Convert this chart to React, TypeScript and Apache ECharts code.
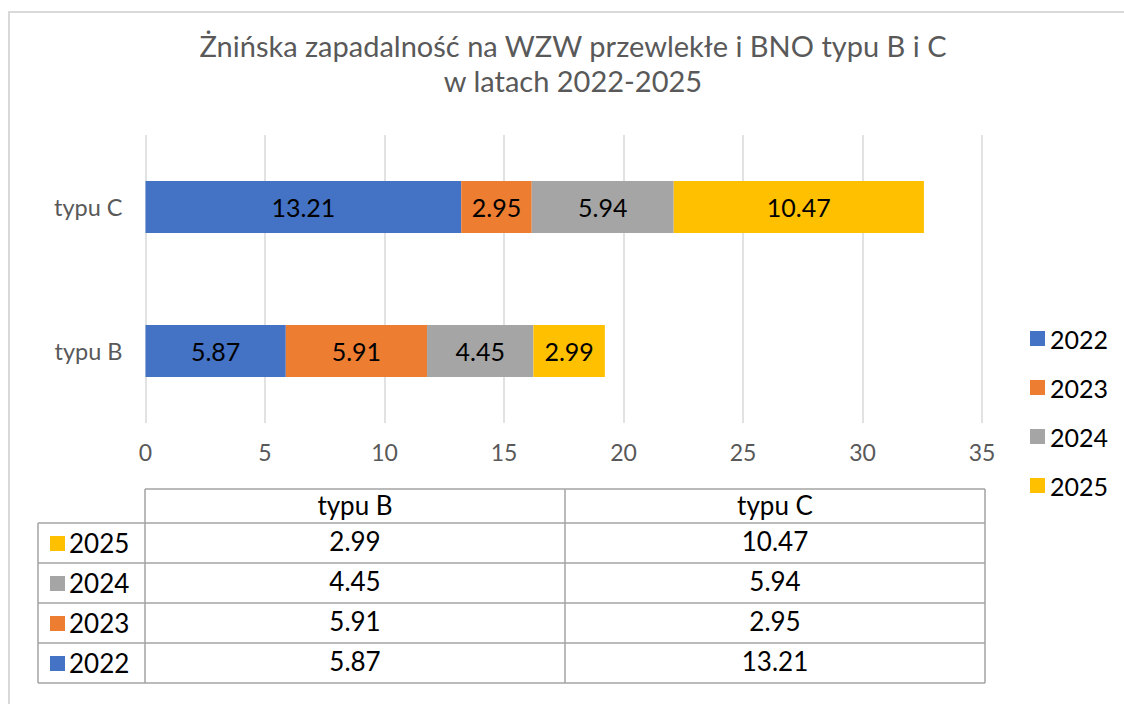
import React, { useEffect, useRef } from "react";
import * as echarts from "echarts";

const categories = ["typu B", "typu C"];
const years = ["2022", "2023", "2024", "2025"];
const values2022 = [5.87, 13.21];
const values2023 = [5.91, 2.95];
const values2024 = [4.45, 5.94];
const values2025 = [2.99, 10.47];
const xTicks = { min: 0, max: 35, interval: 5 };
const titleText = "Żnińska zapadalność na WZW przewlekłe i BNO typu B i C\nw latach 2022-2025";

const seriesValues = [values2022, values2023, values2024, values2025];
const colors = ["#4472C4", "#ED7D31", "#A5A5A5", "#FFC000"];
const FONT = "Lato, 'Open Sans', sans-serif";

function buildTable() {
  const els: any[] = [];
  const lineColor = "#a3a3a3";
  const lw = 1.5;
  const left = 38;
  const colX = [145, 565, 985];
  const headTop = 489;
  const rowTop0 = 523;
  const rowH = 40;
  const order = [3, 2, 1, 0];
  const bottom = rowTop0 + rowH * order.length;
  const fs = 26;
  const ln = (x1: number, y1: number, x2: number, y2: number) => ({
    type: "line",
    shape: { x1, y1, x2, y2 },
    style: { stroke: lineColor, lineWidth: lw },
    silent: true,
  });
  els.push(ln(colX[0], headTop, colX[2], headTop));
  for (const x of colX) els.push(ln(x, headTop, x, bottom));
  els.push(ln(left, rowTop0, left, bottom));
  for (let i = 0; i <= order.length; i++) {
    const y = rowTop0 + i * rowH;
    els.push(ln(left, y, colX[2], y));
  }
  categories.forEach((c, ci) => {
    els.push({
      type: "text",
      x: (colX[ci] + colX[ci + 1]) / 2,
      y: (headTop + rowTop0) / 2 - 1,
      style: { text: c, fontSize: fs, fontFamily: FONT, fill: "#000", align: "center", verticalAlign: "middle" },
      silent: true,
    });
  });
  order.forEach((si, ri) => {
    const top = rowTop0 + ri * rowH;
    els.push({
      type: "rect",
      shape: { x: 50, y: top + 13, width: 15, height: 15 },
      style: { fill: colors[si] },
      silent: true,
    });
    els.push({
      type: "text",
      x: 69,
      y: top + 20,
      style: { text: years[si], fontSize: fs, fontFamily: FONT, fill: "#000", align: "left", verticalAlign: "middle" },
      silent: true,
    });
    categories.forEach((_, ci) => {
      els.push({
        type: "text",
        x: (colX[ci] + colX[ci + 1]) / 2,
        y: top + 18,
        style: {
          text: seriesValues[si][ci].toFixed(2),
          fontSize: fs,
          fontFamily: FONT,
          fill: "#000",
          align: "center",
          verticalAlign: "middle",
        },
        silent: true,
      });
    });
  });
  return els;
}

export default function App() {
  const ref = useRef<HTMLDivElement>(null);
  useEffect(() => {
    if (!ref.current) return;
    const chart = echarts.init(ref.current, undefined, { renderer: "svg" });
    chart.setOption({
      animation: false,
      backgroundColor: "#ffffff",
      textStyle: { fontFamily: FONT },
      title: {
        text: titleText,
        left: 568,
        top: 23,
        textAlign: "center",
        textStyle: { fontSize: 29, fontWeight: "normal", color: "#595959", lineHeight: 35, fontFamily: FONT },
      },
      legend: {
        orient: "vertical",
        left: 1025,
        top: 321,
        icon: "rect",
        itemWidth: 15,
        itemHeight: 15,
        itemGap: 24,
        data: years,
        textStyle: { fontSize: 25, color: "#000", lineHeight: 24, fontFamily: FONT },
      },
      grid: {
        left: 145.5,
        right: 1124 - 982,
        top: 135,
        height: 288,
        containLabel: false,
        outerBoundsMode: "none",
      },
      xAxis: {
        type: "value",
        min: xTicks.min,
        max: xTicks.max,
        interval: xTicks.interval,
        axisLine: { show: false },
        axisTick: { show: false },
        axisLabel: { fontSize: 23, color: "#595959", margin: 17, fontFamily: FONT },
        splitLine: { show: true, lineStyle: { color: "#d9d9d9", width: 1.5 } },
      },
      yAxis: {
        type: "category",
        data: categories,
        axisLine: { show: false },
        axisTick: { show: false },
        axisLabel: { fontSize: 23.5, color: "#595959", margin: 23, fontFamily: FONT },
      },
      series: years.map((y, i) => ({
        name: y,
        type: "bar",
        stack: "total",
        barWidth: 52,
        data: seriesValues[i],
        itemStyle: { color: colors[i] },
        label: {
          show: true,
          position: "inside",
          color: "#000",
          fontSize: 25,
          fontFamily: FONT,
          formatter: (p: any) => Number(p.value).toFixed(2),
        },
      })),
      graphic: [
        {
          type: "rect",
          shape: { x: 9, y: 12, width: 1300, height: 900 },
          style: { fill: "none", stroke: "#d9d9d9", lineWidth: 2 },
          silent: true,
          z: -1,
        },
        ...buildTable(),
      ],
    });
    return () => chart.dispose();
  }, []);
  return <div ref={ref} style={{ position: "absolute", left: 0, top: 0, width: 1124, height: 704 }} />;
}
